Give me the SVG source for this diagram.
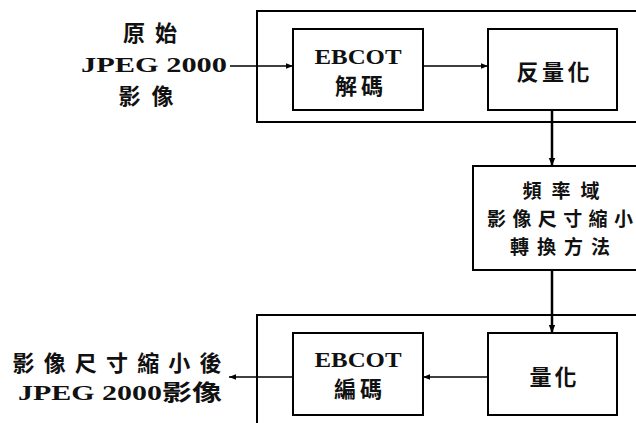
<svg xmlns="http://www.w3.org/2000/svg" width="636" height="423" viewBox="0 0 636 423">
<defs>
<style>
.box{fill:#fff;stroke:#000;stroke-width:2}
.frame{fill:none;stroke:#000;stroke-width:2}
.t{font-family:"Liberation Serif","Noto Sans CJK TC",serif;font-weight:bold;font-size:22px;fill:#111;text-anchor:middle}
.c{font-family:"Noto Sans CJK TC","Liberation Serif",serif;font-weight:bold;font-size:22px;fill:#111;text-anchor:middle}
.s{font-size:19px}
.ln{stroke:#000;stroke-width:1.5;fill:none}
.vl{stroke:#000;stroke-width:2.5;fill:none}
</style>
<marker id="ah" viewBox="0 0 10 10" refX="10" refY="5" markerWidth="7" markerHeight="7" markerUnits="userSpaceOnUse" orient="auto">
<path d="M0,1 L10,5 L0,9 Z" fill="#000"/>
</marker>
<marker id="ah2" viewBox="0 0 10 10" refX="10" refY="5" markerWidth="8" markerHeight="8" markerUnits="userSpaceOnUse" orient="auto">
<path d="M0,1 L10,5 L0,9 Z" fill="#000"/>
</marker>
</defs>
<rect width="636" height="423" fill="#fff"/>
<g id="frame-decode"><rect class="frame" x="257" y="11" width="390" height="111"/></g>
<g id="frame-encode"><rect class="frame" x="257" y="315" width="390" height="120"/></g>
<g id="connectors">
<line class="ln" x1="230" y1="66" x2="293" y2="66" marker-end="url(#ah)"/>
<line class="ln" x1="423" y1="66" x2="488" y2="66" marker-end="url(#ah)"/>
<line class="vl" x1="552" y1="110" x2="552" y2="166" marker-end="url(#ah2)"/>
<line class="vl" x1="552" y1="270" x2="552" y2="333" marker-end="url(#ah2)"/>
<line class="ln" x1="488" y1="377" x2="423" y2="377" marker-end="url(#ah)"/>
<line class="ln" x1="293" y1="377" x2="229" y2="377" marker-end="url(#ah)"/>
</g>
<g id="input">
<text class="c" x="150" y="41" textLength="54" lengthAdjust="spacing">原始</text>
<text class="t" x="154" y="72" textLength="146" lengthAdjust="spacingAndGlyphs">JPEG 2000</text>
<text class="c" x="146" y="104" textLength="55" lengthAdjust="spacing">影像</text>
</g>
<g id="ebcot-decode">
<rect class="box" x="293" y="29" width="130" height="81"/>
<text class="t" x="358" y="64" textLength="87" lengthAdjust="spacingAndGlyphs">EBCOT</text>
<text class="c" x="359" y="94" font-size="20" textLength="48" lengthAdjust="spacing">解碼</text>
</g>
<g id="dequant">
<rect class="box" x="488" y="29" width="129" height="81"/>
<text class="c" x="553" y="80" textLength="73" lengthAdjust="spacing">反量化</text>
</g>
<g id="freq">
<rect class="box" x="473" y="166" width="170" height="104"/>
<text class="c s" x="561" y="198" textLength="77" lengthAdjust="spacing">頻率域</text>
<text class="c s" x="560" y="226" textLength="146" lengthAdjust="spacing">影像尺寸縮小</text>
<text class="c s" x="560" y="254" textLength="100" lengthAdjust="spacing">轉換方法</text>
</g>
<g id="quant">
<rect class="box" x="488" y="333" width="129" height="82"/>
<text class="c" x="553" y="385" textLength="47" lengthAdjust="spacing">量化</text>
</g>
<g id="ebcot-encode">
<rect class="box" x="293" y="333" width="130" height="82"/>
<text class="t" x="358" y="367" textLength="87" lengthAdjust="spacingAndGlyphs">EBCOT</text>
<text class="c" x="358" y="397" font-size="20" textLength="48" lengthAdjust="spacing">編碼</text>
</g>
<g id="output">
<text class="c" x="117" y="371" font-size="24" textLength="209" lengthAdjust="spacing">影像尺寸縮小後</text>
<text class="t" x="120" y="400" font-size="23" textLength="204" lengthAdjust="spacingAndGlyphs">JPEG 2000影像</text>
</g>
</svg>
